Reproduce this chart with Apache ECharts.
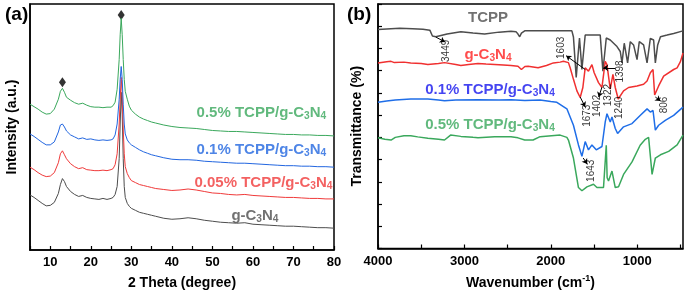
<!DOCTYPE html>
<html>
<head>
<meta charset="utf-8">
<script src="https://cdn.jsdelivr.net/npm/echarts@6/dist/echarts.min.js"></script>
<style>
  html, body { margin: 0; padding: 0; background: #fff; }
  #chart { width: 685px; height: 295px; }
</style>
</head>
<body>
<div id="chart"></div>
<script>
// (a) XRD, 2 theta in degrees, stacked intensities (a.u.)
const twoTheta = [5,6,7,8,9,10,11,12,12.5,13,13.5,14,15,16,17,18,19,20,21,22,23,24,25,
  25.5,26,26.5,27,27.25,27.5,27.75,28,28.25,28.5,29,29.5,30,31,32,33,34,35,36,
  38,40,42,44,46,48,50,52,54,56,58,60,62,64,66,68,70,72,74,76,78,80];
const xrdGC3N4 = [55.5,53,50,47,44.5,45,48,57,66,72,69,64,59,56,54,55,53,52,51.5,51,52,51,52,
  53,56,64,92,127,159,137,92,64,53,47,44,42,40,38,37,36,35,34,
  32,31,31.5,32.5,31.5,30,29,28,27.5,27,27.5,26,25.5,25,24.5,24,24,23.5,23,22.5,22.5,22];
const xrd005 = [83.5,81,78,75.5,74,74.5,78,88,97,100,96,92,87,84,82,83,81,80.5,80,80,80.5,80,81,
  82,86,97,127,152,174,157,122,97,84,77,73,70,68,66,65,64,63,62,
  61,60,60.5,61.5,60.5,59,57.5,57,56,55.5,56,55,54.5,54,53.5,53,53,52.5,52,52,51.5,51.5];
const xrd01 = [117,114.5,111.5,108.5,106,106,109,119,126,127,124,120,116,114,112,113,111.5,112,111,110.5,111,110.5,111,
  112,116,127,152,172,185,172,147,127,117,111,108,106,103.5,101,99,97.5,96,95,
  93,91.5,91,91,90.5,89.5,89,88.5,88,87.5,87.5,87,86.5,86,85.5,85,85,84.5,84.5,84,84,83.5];
const xrd05 = [147,144.5,142,139,137,137.5,142,152,160,163,159,154,151,148.5,147,148,146,144.5,144,144,143.5,144,144,
  145.5,149,162,192,217,233.5,217,192,172,160,152,145,141,137,134,132,130.5,129,128,
  126,124.5,123.5,123,122.5,121.5,120.5,120,119.5,119.5,119,118.5,118,117.5,117,116.5,116.5,116,116,115.5,115.5,115];
const xrdDiamonds = [[13, 169], [27.5, 237]];

// (b) FTIR, [wavenumber cm-1, transmittance (a.u., offset)]
const ftirTCPP = [[4000,222.7],[3850,223.5],[3748,224],[3600,223.5],[3480,223],[3400,222],[3370,216],[3331,215.3],
  [3200,218],[3041,220.3],[2900,219],[2766,218],[2600,220],[2461,221],[2403,220.5],[2380,218],[2360,215.3],
  [2340,219],[2302,221.3],[2100,221.3],[1900,221.3],[1756,221.3],[1738,215],[1706,174],[1668,214],[1640,182],
  [1602,217],[1500,217],[1428,217],[1397,180.3],[1358,214],[1312,212],[1234,205.3],[1196,200.3],[1176,188.7],
  [1150,208.7],[1111,188.7],[1080,210.3],[1042,207],[1002,192],[976,210.3],[926,207],[886,188.7],[848,213.7],
  [810,212],[790,188.7],[763,207],[731,215.3],[654,217],[578,218.7],[470,221.3]];
const ftirGC3N4 = [[4000,188.7],[3900,190],[3849,190.3],[3810,189],[3700,189.5],[3621,188.7],[3500,188],[3423,187],
  [3300,188],[3230,189],[3100,187],[3041,186],[2950,187],[2843,188],[2750,187.5],[2650,187],[2550,186.5],
  [2461,186],[2380,185.3],[2340,182],[2300,185],[2263,185.3],[2147,183.7],[2050,186],[1970,188.7],[1892,189.5],
  [1854,190.3],[1796,189],[1776,183.7],[1738,172],[1698,160.3],[1660,153.5],[1629,163.7],[1602,183.7],
  [1564,180.3],[1524,187],[1498,178.7],[1448,168.7],[1408,163.7],[1370,190.3],[1350,187],[1312,162],
  [1281,177],[1254,163.7],[1220,152],[1158,160.3],[1100,163.7],[1002,165.3],[926,167],[886,170.3],
  [848,178.7],[817,182],[798,156],[752,165.3],[694,175.3],[578,182],[538,183.7],[500,190],[470,198.7]];
const ftir01 = [[4000,148.7],[3900,150],[3800,151],[3621,152],[3500,152],[3423,152],[3300,151],[3230,150.3],
  [3100,151],[2843,151.3],[2600,151],[2461,151.3],[2300,150.5],[2124,151],[2000,149.5],[1930,148.7],
  [1814,142],[1738,125.3],[1680,105.3],[1640,93.7],[1602,108.7],[1564,100.3],[1524,105.3],[1474,100.3],
  [1408,103.7],[1370,128.7],[1350,137],[1312,128.7],[1292,133.7],[1254,122],[1227,117],[1158,123.7],
  [1060,127],[966,135.3],[886,142],[848,138.7],[817,140.3],[790,120.3],[752,125.3],[675,130.3],[578,135.3],[470,143.7]];
const ftir05 = [[4000,112.7],[3920,111],[3849,110.3],[3800,113],[3700,114.7],[3621,114.7],[3540,113.5],[3423,112],
  [3300,111],[3230,110.3],[3160,115.3],[3041,114],[2900,113],[2843,112.7],[2650,113.5],[2461,113.7],
  [2380,112.5],[2302,110.3],[2205,110.3],[2124,113.7],[1892,115.3],[1814,113],[1796,110.3],[1738,92],
  [1680,62],[1640,58.7],[1582,62.7],[1506,65.3],[1466,62],[1390,62],[1372,63],[1358,105],[1348,72],
  [1332,68.7],[1292,78.7],[1254,62],[1216,62.7],[1158,75.3],[1060,88],[966,105],[906,111],[868,113],
  [828,75.3],[790,92],[731,95.3],[636,98.7],[538,105.3],[470,115.3]];

// peak labels [text, wavenumber, y] and arrows [from, to]
const ftirNotes = [['3449',3215,201],['1603',1881,204],['1673',1573,135],['1402',1463,145],['1398',1196,180],
  ['1322',1330,156],['1240',1208,143],['806',691,146],['1643',1527,79]];
const ftirArrows = [[[3331,215],[3226,210]],[[1602,182],[1822,196]],[[1660,154],[1602,144]],
  [[1408,164],[1446,154]],[[1254,183.7],[1393,183.7]],[[790,154],[732,150]],[[1625,92],[1579,86]]];

const xTicksB = [500,1000,1500,2000,2500,3000,3500,4000];
const xLabelsB = [1000,2000,3000,4000];

const FONT = 'Liberation Sans, Arial, sans-serif';
const C = { gray: '#4d4d4d', red: '#f03a3a', blue: '#2266e0', green: '#3aa85c' };

function chemLabel(prefix, color, size) {
  return {
    show: true,
    position: 'inside',
    formatter: '{n|' + prefix + 'g-C}{s|3}{n|N}{s|4}',
    rich: {
      n: { fontFamily: FONT, fontWeight: 'bold', fontSize: size, color: color },
      s: { fontFamily: FONT, fontWeight: 'bold', fontSize: size * 0.68, color: color, padding: [size * 0.45, 0, 0, 0] }
    }
  };
}
function textPoint(x, y, label, gi) {
  return {
    type: 'scatter', xAxisIndex: gi, yAxisIndex: gi, symbolSize: 0, silent: true,
    data: [[x, y]], label: label, z: 10
  };
}
function plainLabel(text, color, size, rotate) {
  return {
    show: true, position: 'inside', formatter: text, rotate: rotate || 0,
    fontFamily: FONT, fontWeight: 'bold', fontSize: size, color: color
  };
}

const chart = echarts.init(document.getElementById('chart'));

const axisCommon = {
  axisLine: { lineStyle: { color: '#000', width: 1.5 } },
  axisTick: { inside: true, length: 4, lineStyle: { color: '#000', width: 1.2 } },
  splitLine: { show: false },
  axisLabel: { fontFamily: FONT, fontWeight: 'bold', fontSize: 13, color: '#000', margin: 6 },
  nameTextStyle: { fontFamily: FONT, fontWeight: 'bold', fontSize: 14, color: '#000' }
};

const series = [
  { type: 'line', xAxisIndex: 0, yAxisIndex: 0, showSymbol: false, data: twoTheta.map((t, i) => [t, xrdGC3N4[i]]), lineStyle: { color: C.gray, width: 1 } },
  { type: 'line', xAxisIndex: 0, yAxisIndex: 0, showSymbol: false, data: twoTheta.map((t, i) => [t, xrd005[i]]), lineStyle: { color: C.red, width: 1 } },
  { type: 'line', xAxisIndex: 0, yAxisIndex: 0, showSymbol: false, data: twoTheta.map((t, i) => [t, xrd01[i]]), lineStyle: { color: C.blue, width: 1 } },
  { type: 'line', xAxisIndex: 0, yAxisIndex: 0, showSymbol: false, data: twoTheta.map((t, i) => [t, xrd05[i]]), lineStyle: { color: C.green, width: 1 } },
  { type: 'scatter', xAxisIndex: 0, yAxisIndex: 0, symbol: 'diamond', symbolSize: [7, 10], itemStyle: { color: '#000' }, data: xrdDiamonds },
  textPoint(62.1, 138, chemLabel('0.5% TCPP/', C.green, 15), 0),
  textPoint(62.1, 101, chemLabel('0.1% TCPP/', C.blue, 15), 0),
  textPoint(62.6, 68, chemLabel('0.05% TCPP/', C.red, 15), 0),
  textPoint(60.5, 34.5, chemLabel('', C.gray, 15), 0),

  { type: 'line', xAxisIndex: 1, yAxisIndex: 1, showSymbol: false, data: ftirTCPP, lineStyle: { color: C.gray, width: 1.5 } },
  { type: 'line', xAxisIndex: 1, yAxisIndex: 1, showSymbol: false, data: ftirGC3N4, lineStyle: { color: '#f03030', width: 1.5 } },
  { type: 'line', xAxisIndex: 1, yAxisIndex: 1, showSymbol: false, data: ftir01, lineStyle: { color: '#1f6ee8', width: 1.5 } },
  { type: 'line', xAxisIndex: 1, yAxisIndex: 1, showSymbol: false, data: ftir05, lineStyle: { color: C.green, width: 1.5 },
    markLine: {
      silent: true, symbol: ['none', 'arrow'], symbolSize: 5,
      lineStyle: { color: '#000', width: 1, type: 'solid' }, label: { show: false },
      data: ftirArrows.map(a => [{ coord: a[0] }, { coord: a[1] }])
    }
  },
  textPoint(2727, 235, plainLabel('TCPP', C.gray, 15), 1),
  textPoint(2727, 197, chemLabel('', '#ff1f1f', 15), 1),
  textPoint(2704, 161, chemLabel('0.1% TCPP/', '#1515ee', 15), 1),
  textPoint(2704, 126, chemLabel('0.5% TCPP/', C.green, 15), 1),
  {
    type: 'scatter', xAxisIndex: 1, yAxisIndex: 1, symbolSize: 0, silent: true, z: 10,
    data: ftirNotes.map(n => ({ value: [n[1], n[2]], name: n[0] })),
    label: { show: true, position: 'inside', rotate: 90, formatter: p => p.name,
      fontFamily: FONT, fontSize: 10, color: '#000' }
  }
];

chart.setOption({
  backgroundColor: '#fff',
  animation: false,
  title: [
    { text: '(a)', left: 0, top: 0, textStyle: { fontFamily: FONT, fontWeight: 'bold', fontSize: 19, color: '#000' } },
    { text: '(b)', left: 342, top: 0, textStyle: { fontFamily: FONT, fontWeight: 'bold', fontSize: 19, color: '#000' } }
  ],
  grid: [
    { left: 30, top: 4, width: 304, height: 248, show: true, borderColor: '#000', borderWidth: 1.5 },
    { left: 378, top: 4, width: 305, height: 248, show: true, borderColor: '#000', borderWidth: 1.5 }
  ],
  xAxis: [
    Object.assign({}, axisCommon, {
      type: 'value', gridIndex: 0, min: 5, max: 80, interval: 5,
      name: '2 Theta (degree)', nameLocation: 'middle', nameGap: 26,
      axisLabel: Object.assign({}, axisCommon.axisLabel, { formatter: v => (v % 10 === 0 ? String(v) : '') })
    }),
    Object.assign({}, axisCommon, {
      type: 'value', gridIndex: 1, min: 470, max: 4000, inverse: true,
      name: 'Wavenumber (cm{sup|-1})', nameLocation: 'middle', nameGap: 26,
      nameTextStyle: Object.assign({}, axisCommon.nameTextStyle, {
        rich: { sup: { fontFamily: FONT, fontWeight: 'bold', fontSize: 9, color: '#000', padding: [0, 0, 8, 0] } }
      }),
      axisTick: Object.assign({}, axisCommon.axisTick, { customValues: xTicksB }),
      axisLabel: Object.assign({}, axisCommon.axisLabel, { customValues: xLabelsB, formatter: v => String(v) })
    })
  ],
  yAxis: [
    Object.assign({}, axisCommon, {
      type: 'value', gridIndex: 0, min: 0, max: 248,
      name: 'Intensity (a.u.)', nameLocation: 'middle', nameGap: 11,
      axisTick: { show: false }, axisLabel: { show: false }
    }),
    Object.assign({}, axisCommon, {
      type: 'value', gridIndex: 1, min: 0, max: 248.6, interval: 22.6,
      name: 'Transmittance (%)', nameLocation: 'middle', nameGap: 14,
      axisLabel: { show: false }
    })
  ],
  series: series
});
</script>
</body>
</html>
